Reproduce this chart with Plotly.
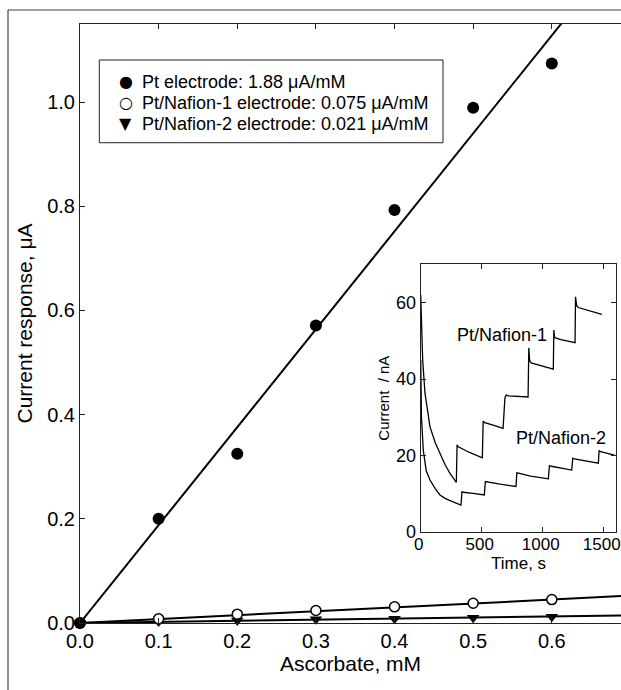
import plotly.graph_objects as go

# ---------------- data ----------------
conc = [0.0, 0.1, 0.2, 0.3, 0.4, 0.5, 0.6]
pt_resp = [0.0, 0.200, 0.325, 0.571, 0.793, 0.989, 1.074]
naf1_resp = [0.0, 0.008, 0.017, 0.024, 0.031, 0.038, 0.045]
naf2_resp = [0.0, 0.003, 0.005, 0.007, 0.008, 0.010, 0.012]
slopes = [1.88, 0.075, 0.021]
names = ["Pt electrode: 1.88 μA/mM",
         "Pt/Nafion-1 electrode: 0.075 μA/mM",
         "Pt/Nafion-2 electrode: 0.021 μA/mM"]
legend_glyphs = ["●", "○", "▼"]
fit_x = [0.0, 0.7]

# inset amperometric traces (time s, current nA)
t1 = [0, 5, 16, 35, 76, 120, 158, 200, 240, 281, 292, 298, 308, 400, 505, 512, 525,
      600, 675, 690, 700, 720, 800, 869, 880, 886, 893, 905, 1000, 1087, 1091, 1098,
      1150, 1265, 1269, 1278, 1292, 1400, 1484]
i1 = [62, 54, 45, 36.3, 27.5, 23.3, 20.6, 17.6, 15.3, 13.2, 13.0, 22.8, 22.3, 20.8,
      19.4, 29.0, 28.6, 27.9, 27.1, 35.0, 35.8, 35.6, 35.4, 35.2, 35.3, 48.2, 44.8,
      44.2, 43.3, 42.6, 52.8, 50.8, 50.3, 49.5, 61.5, 59.2, 58.7, 57.6, 56.9]
t2 = [0, 6, 21, 45, 76, 120, 158, 200, 240, 290, 330, 338, 350, 430, 521, 530, 545,
      650, 781, 788, 800, 900, 1046, 1055, 1070, 1150, 1238, 1246, 1260, 1350, 1456,
      1462, 1475, 1587]
i2 = [45, 30, 21.4, 16, 13.6, 11.3, 9.7, 8.8, 8.2, 7.5, 7.06, 10.5, 10.4, 10.1, 9.7,
      13.2, 13.1, 12.5, 11.9, 15.5, 15.4, 14.6, 13.9, 17.3, 17.2, 16.7, 16.2, 19.3,
      19.1, 18.6, 18.0, 21.3, 21.0, 20.1]

main_ticks = [0.0, 0.1, 0.2, 0.3, 0.4, 0.5, 0.6]
y_ticks = [0.0, 0.2, 0.4, 0.6, 0.8, 1.0]
inset_xticks = [0, 500, 1000, 1500]
inset_yticks = [0, 20, 40, 60]

FONT = "Liberation Sans, Arial, sans-serif"
AX = "#222222"

fig = go.Figure()

series = [pt_resp, naf1_resp, naf2_resp]
markers = [dict(symbol="circle", size=12, color="black"),
           dict(symbol="circle", size=10, color="white", line=dict(color="black", width=1.5)),
           dict(symbol="triangle-down", size=11, color="black")]

# fit lines
for s in slopes:
    fig.add_trace(go.Scatter(x=fit_x, y=[s * v for v in fit_x], mode="lines",
                             line=dict(color="black", width=2), showlegend=False,
                             hoverinfo="skip", xaxis="x", yaxis="y"))
# markers (Pt drawn last so it sits on top at the origin)
for ys, m, n in list(zip(series, markers, names))[::-1]:
    fig.add_trace(go.Scatter(x=conc, y=ys, mode="markers", marker=m, name=n,
                             cliponaxis=False, showlegend=False, xaxis="x", yaxis="y"))

# inset
fig.add_trace(go.Scatter(x=t1, y=i1, mode="lines", line=dict(color="black", width=1.3),
                         showlegend=False, xaxis="x2", yaxis="y2"))
fig.add_trace(go.Scatter(x=t2, y=i2, mode="lines", line=dict(color="black", width=1.3),
                         showlegend=False, xaxis="x2", yaxis="y2"))

tick_common = dict(ticks="inside", ticklen=5, tickcolor=AX, showgrid=False,
                   zeroline=False, linecolor=AX, linewidth=1, automargin=False)

fig.update_layout(
    width=621, height=690,
    margin=dict(l=80, r=0, t=24, b=67, autoexpand=False),
    paper_bgcolor="white", plot_bgcolor="white",
    font=dict(family=FONT, color="black"),
    showlegend=False,
    xaxis=dict(domain=[0, 1], range=[0, 0.688], tickvals=main_ticks, tickformat=".1f",
               showline=True, mirror="ticks", tickfont=dict(size=20),
               title=dict(text="Ascorbate, mM", font=dict(size=21), standoff=4),
               anchor="y", **tick_common),
    yaxis=dict(domain=[0, 1], range=[0, 1.15], tickvals=y_ticks, tickformat=".1f",
               showline=True, mirror=False, tickfont=dict(size=20),
               title=dict(text="Current response, μA", font=dict(size=21), standoff=8),
               anchor="x", **tick_common),
    yaxis4=dict(overlaying="y", side="right", anchor="x", range=[0, 1.15],
                tickvals=y_ticks, showticklabels=False, showline=False,
                ticks="inside", ticklen=5, tickcolor=AX, showgrid=False, zeroline=False,
                automargin=False),
    xaxis2=dict(domain=[0.6298, 0.9906], range=[0, 1600], tickvals=inset_xticks,
                showline=True, mirror="ticks", tickfont=dict(size=17), anchor="y2",
                ticklabeloverflow="allow", ticklabelstandoff=-3, ticklabelshift=-2,
                **tick_common),
    yaxis2=dict(domain=[0.1519, 0.5988], range=[0, 70], tickvals=inset_yticks,
                showline=True, mirror="ticks", tickfont=dict(size=18), anchor="x2",
                title=dict(text="Current  / nA", font=dict(size=15), standoff=2),
                **tick_common),
)

# inset x title
fig.add_annotation(x=800, y=0.0985, xref="x2", yref="paper", text="Time, s",
                   showarrow=False, font=dict(size=17), yanchor="middle")

fig.add_annotation(x=666, y=51.5, xref="x2", yref="y2", text="Pt/Nafion-1",
                   showarrow=False, font=dict(size=18))
fig.add_annotation(x=1150, y=24.6, xref="x2", yref="y2", text="Pt/Nafion-2",
                   showarrow=False, font=dict(size=18))

# legend box (drawn manually to match the compact row spacing)
fig.add_shape(type="rect", xref="paper", yref="paper", x0=0.0357, x1=0.6710,
              y0=0.8018, y1=0.9399, line=dict(color=AX, width=1), fillcolor="white",
              layer="above")
row_y = [0.9037, 0.8686, 0.8331]
for ry, g, n in zip(row_y, legend_glyphs, names):
    fig.add_annotation(x=0.0850, y=ry, xref="paper", yref="paper", text=g,
                       showarrow=False, xanchor="center", yanchor="middle",
                       font=dict(size=16, family="DejaVu Sans"))
    fig.add_annotation(x=0.1100, y=ry, xref="paper", yref="paper", text=n,
                       showarrow=False, xanchor="left", yanchor="middle",
                       font=dict(size=18))

# outer frame (left and top edges)
fig.add_shape(type="line", xref="paper", yref="paper", x0=-0.1331, x1=-0.1331,
              y0=-0.12, y1=1.0234, line=dict(color="#444444", width=1.2))
fig.add_shape(type="line", xref="paper", yref="paper", x0=-0.1331, x1=1.01,
              y0=1.0234, y1=1.0234, line=dict(color="#444444", width=1.2))

fig.write_html("out.html")
